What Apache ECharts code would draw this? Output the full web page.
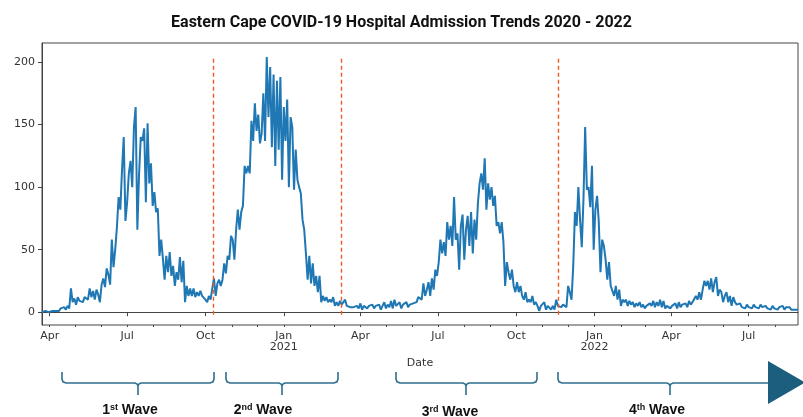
<!DOCTYPE html>
<html>
<head>
<meta charset="utf-8">
<script src="https://cdn.jsdelivr.net/npm/echarts@6/dist/echarts.min.js"></script>
<style>
  html, body { margin: 0; padding: 0; background: #fff; }
  #chart { width: 803px; height: 417px; }
</style>
</head>
<body>
<div id="chart"></div>
<script>
// daily admissions, read every 2nd day off the source plot
var startDate = [2020, 2, 23];
var endDate = [2022, 7, 28];
var stepDays = 2;
var admissions = [
  0, 0, 1, 0, 0, 1, 1, 0, 1, 2, 1, 3, 2, 4, 2, 5, 3, 19,
  8, 11, 6, 12, 9, 10, 8, 12, 11, 10, 19, 12, 17, 10, 18, 14, 8,
  22, 27, 20, 35, 30, 22, 58, 36, 50,
  68, 92, 82, 114, 140, 73, 88, 111, 121, 100, 148, 164,
  66, 110, 140, 137, 147, 88, 151, 103, 119, 85, 96, 80, 83,
  45, 58, 43, 26, 45, 32, 48, 29, 37, 21, 32, 26, 44, 24, 41,
  8, 21, 13, 19, 13, 19, 12, 16, 13, 17, 13, 14, 10, 8, 13, 10, 19, 27,
  // 2nd wave
  13, 23, 26, 21, 26, 39, 31, 45, 42, 61, 58, 42, 66, 82, 66, 80, 85,
  117, 111, 117, 111, 153, 137, 167, 145, 158, 135, 143, 175, 137, 204, 156, 196, 132,
  190, 117, 185, 130, 188, 106, 164, 137, 170, 100, 156, 148, 98, 130, 106, 100, 95,
  74, 66, 47, 26, 45, 23, 39, 21, 29, 16, 29, 8, 13, 9, 12, 8,
  10, 8, 12, 5, 8, 5, 9, 6, 8, 10, 5, 6, 4, 5,
  4, 3, 5, 3, 7, 2, 5, 4, 3, 5, 4, 6, 3, 5, 4, 6, 2, 5, 8, 3,
  6, 4, 9, 3, 10, 5, 4, 8, 3, 6, 5, 8, 4, 6, 5, 7, 6,
  // 3rd wave
  8, 12, 13, 10, 23, 13, 18, 24, 13, 27, 18, 34, 29, 40,
  58, 47, 56, 45, 72, 58, 69, 53, 92, 58, 63, 34, 69, 78, 42, 66,
  77, 53, 80, 47, 74, 58, 87, 103, 111, 98, 123, 82, 103, 90, 100, 85,
  93, 69, 72, 63, 72, 56, 21, 40, 32, 26, 34, 21, 16, 24, 16, 21,
  13, 10, 16, 8, 10, 8, 13, 6, 8, 5, 1, 5, 4, 8, 2, 5, 6, 2, 5, 2, 10, 5,
  // 4th wave
  5, 4, 6, 5, 4, 21, 16, 10, 37, 80, 69, 100, 74, 52, 90, 148,
  98, 100, 84, 117, 50, 82, 93, 72, 32, 58, 53, 42, 26, 40, 21, 21,
  13, 21, 10, 18, 5, 10, 8, 10, 5, 9,
  6, 8, 4, 7, 5, 8, 4, 6, 3, 5, 4, 7, 5, 9, 4, 8, 5, 10, 4, 9,
  3, 5, 4, 3, 5, 4, 7, 3, 8, 4, 6, 5, 7, 4, 9, 6, 8, 7,
  13, 10, 16, 10, 18, 25, 21, 25, 18, 27, 16, 24, 28, 13, 18, 16, 8, 13, 16, 8, 13,
  5, 12, 8, 6, 5, 7, 4, 5, 3, 6, 4, 5, 3, 6, 4, 5, 3, 6, 4, 3,
  5, 3, 4, 2, 5, 3, 4, 2, 4, 3, 5, 2, 4, 3, 4, 2, 3, 2, 3, 2
];
var waveStarts = [[2020, 9, 10], [2021, 2, 9], [2021, 10, 19]];
var waveLineRange = [-2, 205];
var yTicks = [0, 50, 100, 150, 200];
var xTickDates = [[2020, 3, 1], [2020, 6, 1], [2020, 9, 1], [2021, 0, 1], [2021, 3, 1],
                  [2021, 6, 1], [2021, 9, 1], [2022, 0, 1], [2022, 3, 1], [2022, 6, 1]];
var xTickLabels = ['Apr', 'Jul', 'Oct', 'Jan\n2021', 'Apr', 'Jul', 'Oct', 'Jan\n2022', 'Apr', 'Jul'];
var waveNames = [['1', 'st'], ['2', 'nd'], ['3', 'rd'], ['4', 'th']];

function ts(a, plusDays) {
  return new Date(a[0], a[1], a[2] + (plusDays || 0)).getTime();
}

var seriesData = admissions.map(function (v, i) {
  return [ts(startDate, i * stepDays), v];
});
var xTickTimes = xTickDates.map(function (d) { return ts(d); });
var minorTimes = [];
for (var m = 3; m <= 31; m++) {
  minorTimes.push(new Date(2020, m, 1).getTime());
}

// brace layout: [left, middle, right, open-ended]
var braces = [
  [62, 138, 214, false],
  [226, 282, 338, false],
  [396, 466, 537, false],
  [558, 670, 768, true]
];
var labelPos = [[130, 410], [263, 410], [450, 412], [657, 410]];
var braceColor = '#2f6f8f';

function braceHalves(b) {
  var x1 = b[0], xc = b[1], x2 = b[2], top = 372, y = 383, bot = 395;
  var left = [[x1, top], [x1, y - 4], [x1 + 1, y - 1.2], [x1 + 4, y],
              [xc - 3, y], [xc - 0.9, y + 1], [xc, y + 3], [xc, bot]];
  var right = [[xc, y + 3], [xc + 0.9, y + 1], [xc + 3, y]];
  if (b[3]) {
    right.push([x2, y]);
  } else {
    right.push([x2 - 4, y], [x2 - 1, y - 1.2], [x2, y - 4], [x2, top]);
  }
  return [left, right];
}

var graphics = [];
braces.forEach(function (b) {
  braceHalves(b).forEach(function (pts) {
    graphics.push({
      type: 'polyline',
      shape: { points: pts },
      style: { fill: null, stroke: braceColor, lineWidth: 1.6 },
      silent: true
    });
  });
});
waveNames.forEach(function (w, i) {
  graphics.push({
    type: 'text',
    x: labelPos[i][0],
    y: labelPos[i][1],
    silent: true,
    style: {
      text: w[0] + '{s|' + w[1] + '} Wave',
      fontFamily: 'Liberation Sans',
      fontWeight: 'bold',
      fontSize: 14,
      fill: '#111',
      align: 'center',
      verticalAlign: 'middle',
      rich: {
        s: { fontFamily: 'Liberation Sans', fontWeight: 'bold', fontSize: 9, verticalAlign: 'top', fill: '#111' }
      }
    }
  });
});
graphics.push({
  type: 'polygon',
  shape: { points: [[768, 361], [768, 404], [805, 382.5]] },
  style: { fill: '#1b5e7e' },
  silent: true
});

var axisColor = '#444';
var chart = echarts.init(document.getElementById('chart'));
chart.setOption({
  animation: false,
  backgroundColor: '#fff',
  title: {
    text: 'Eastern Cape COVID-19 Hospital Admission Trends 2020 - 2022',
    left: 'center',
    top: 10,
    textStyle: { fontFamily: 'Roboto', fontWeight: 'bold', fontSize: 16, color: '#111' }
  },
  grid: { left: 42, right: 5, top: 43, bottom: 92, show: true, borderColor: axisColor, borderWidth: 1 },
  xAxis: [{
    type: 'value',
    position: 'bottom',
    min: ts(startDate),
    max: ts(endDate),
    name: 'Date',
    nameLocation: 'middle',
    nameGap: 26,
    nameTextStyle: { fontFamily: 'DejaVu Sans', fontSize: 11, color: '#333' },
    axisLine: { lineStyle: { color: axisColor } },
    axisTick: { length: 4, customValues: xTickTimes, lineStyle: { color: axisColor } },
    axisLabel: {
      customValues: xTickTimes,
      fontFamily: 'DejaVu Sans',
      fontSize: 11,
      lineHeight: 11,
      color: '#333',
      margin: 6,
      formatter: function (v) {
        var k = xTickTimes.indexOf(v);
        return k >= 0 ? xTickLabels[k] : '';
      }
    },
    splitLine: { show: false }
  }, {
    type: 'value',
    position: 'bottom',
    offset: 0,
    min: ts(startDate),
    max: ts(endDate),
    axisLine: { show: false },
    axisLabel: { show: false },
    axisTick: { length: 2, customValues: minorTimes, lineStyle: { color: axisColor } },
    splitLine: { show: false }
  }],
  yAxis: {
    type: 'value',
    min: -10.25,
    max: 215.25,
    axisLine: { show: true, lineStyle: { color: axisColor } },
    axisTick: { show: true, length: 4, customValues: yTicks, lineStyle: { color: axisColor } },
    axisLabel: { customValues: yTicks, fontFamily: 'DejaVu Sans', fontSize: 11, color: '#333', margin: 7 },
    splitLine: { show: false }
  },
  series: [{
    type: 'line',
    xAxisIndex: 0,
    data: seriesData,
    showSymbol: false,
    sampling: null,
    lineStyle: { color: '#1f77b4', width: 2 },
    markLine: {
      silent: true,
      symbol: 'none',
      label: { show: false },
      lineStyle: { color: '#ee5a24', type: [4, 3], width: 1.4 },
      data: waveStarts.map(function (d) {
        return [{ coord: [ts(d), waveLineRange[0]] }, { coord: [ts(d), waveLineRange[1]] }];
      })
    }
  }],
  graphic: graphics
});
</script>
</body>
</html>
